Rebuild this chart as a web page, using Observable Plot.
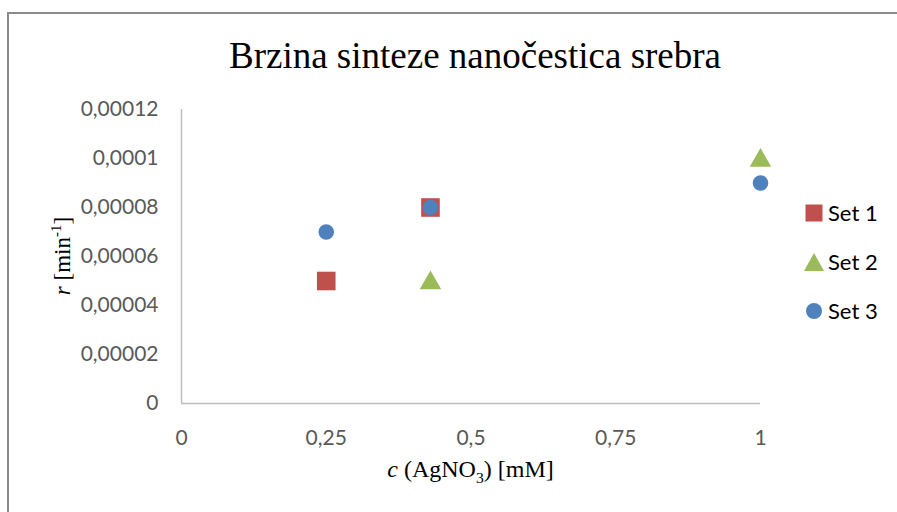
<!DOCTYPE html>
<html>
<head>
<meta charset="utf-8">
<script src="https://cdn.jsdelivr.net/npm/d3@7"></script>
<script src="https://cdn.jsdelivr.net/npm/@observablehq/plot@0.6"></script>
<style>
  html, body { margin: 0; padding: 0; background: #fff; }
  #wrap { position: relative; width: 897px; height: 512px; overflow: hidden; background: #fff; }
  #wrap svg.plot { position: absolute; left: 0; top: 0; }
  #frame { position: absolute; left: 7px; top: 12px; width: 900px; height: 520px;
           border-left: 2px solid #8a8a8a; border-top: 2px solid #8a8a8a; box-sizing: border-box; }
  #title { position: absolute; left: 0; width: 950px; top: 34px; text-align: center;
           font-family: "Liberation Serif", "Times New Roman", serif; font-size: 37px; color: #000; }
  .axlab { position: absolute; font-family: "Liberation Serif", "Times New Roman", serif; color: #000; white-space: nowrap; }
  #xlab { left: 181px; width: 579px; top: 456px; text-align: center; font-size: 24px; }
  #ylab { left: 62px; top: 256px; transform: translate(-50%, -50%) rotate(-90deg); font-size: 23px; }
  #legend { position: absolute; left: 803px; top: 188px; font-family: Lato, "Open Sans", sans-serif; font-size: 22px; color: #000; }
  .li { display: flex; align-items: center; height: 49px; }
  .li svg { width: 22px; height: 22px; margin-right: 3px; }
</style>
</head>
<body>
<div id="wrap">
  <div id="frame"></div>
</div>
<script>
// ---- data ----
const seriesNames = ["Set 1", "Set 2", "Set 3"];
const set1X = [0.25, 0.43];
const set1Y = [0.00005, 0.00008];
const set2X = [0.43, 1];
const set2Y = [0.00005, 0.0001];
const set3X = [0.25, 0.43, 1];
const set3Y = [0.00007, 0.00008, 0.00009];
const xTicks = [0, 0.25, 0.5, 0.75, 1];
const yTicks = [0, 0.00002, 0.00004, 0.00006, 0.00008, 0.0001, 0.00012];
const colors = ["#C0504D", "#9BBB59", "#4F81BD"];
const symbols = ["square", "triangle", "circle"];

const rows = (xs, ys, s) => xs.map((x, i) => ({x, y: ys[i], series: s}));
const data1 = rows(set1X, set1Y, seriesNames[0]);
const data2 = rows(set2X, set2Y, seriesNames[1]);
const data3 = rows(set3X, set3Y, seriesNames[2]);

const fmt = d => String(d).replace(".", ",");

const chart = Plot.plot({
  width: 897,
  height: 512,
  marginLeft: 181,
  marginRight: 137,
  marginTop: 109,
  marginBottom: 109,
  style: { fontFamily: "Lato, 'Open Sans', sans-serif", fontSize: "21px", color: "#595959", background: "transparent" },
  x: { domain: [0, 1], ticks: xTicks, tickFormat: fmt, tickSize: 0, tickPadding: 27, label: null },
  y: { domain: [0, 0.00012], ticks: yTicks, tickFormat: fmt, tickSize: 0, tickPadding: 23, label: null },
  marks: [
    Plot.ruleY([0], { stroke: "#BFBFBF", strokeWidth: 1.5 }),
    Plot.ruleX([0], { stroke: "#BFBFBF", strokeWidth: 1.5 }),
    Plot.dot(data1, { x: "x", y: "y", symbol: () => symbols[0], r: 10.5, fill: colors[0], stroke: null }),
    Plot.dot(data2, { x: "x", y: "y", symbol: () => symbols[1], r: 8, dy: 2, fill: colors[1], stroke: null }),
    Plot.dot(data3, { x: "x", y: "y", symbol: () => symbols[2], r: 7.8, fill: colors[2], stroke: null })
  ]
});
chart.classList.add("plot");
const wrap = document.getElementById("wrap");
wrap.appendChild(chart);

// title
const title = document.createElement("div");
title.id = "title";
title.textContent = "Brzina sinteze nanočestica srebra";
wrap.appendChild(title);

// axis labels
const xl = document.createElement("div");
xl.id = "xlab"; xl.className = "axlab";
xl.innerHTML = "<i>c</i> (AgNO<sub style='font-size:0.65em'>3</sub>) [mM]";
wrap.appendChild(xl);
const yl = document.createElement("div");
yl.id = "ylab"; yl.className = "axlab";
yl.innerHTML = "<i>r</i> [min<sup style='font-size:0.65em'>-1</sup>]";
wrap.appendChild(yl);

// legend
const leg = document.createElement("div");
leg.id = "legend";
const shapes = [
  c => `<rect x="2.5" y="2.5" width="17" height="17" fill="${c}"/>`,
  c => `<path d="M11,2 L21,20 L1,20 Z" fill="${c}"/>`,
  c => `<circle cx="11" cy="11" r="8" fill="${c}"/>`
];
seriesNames.forEach((name, i) => {
  const item = document.createElement("div");
  item.className = "li";
  item.innerHTML = `<svg viewBox="0 0 22 22">${shapes[i](colors[i])}</svg><span>${name}</span>`;
  leg.appendChild(item);
});
wrap.appendChild(leg);
</script>
</body>
</html>
